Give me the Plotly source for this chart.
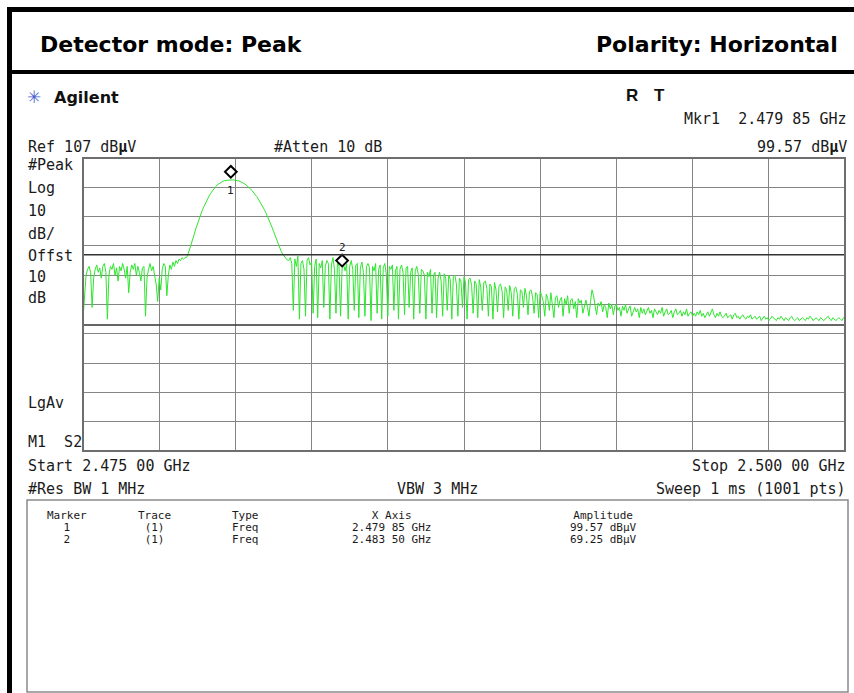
import numpy as np
import plotly.graph_objects as go

# ---------------- data ----------------
start_ghz = 2.475
stop_ghz = 2.500
ref_level = 107          # dBuV (top of screen)
db_per_div = 10

amp_floor_left = [52, 60, 67, 69, 70, 68, 56, 66, 69, 70.5,
                  68, 69.5, 66, 70, 71, 68, 52, 67, 70, 69,
                  71, 67, 69.5, 65, 70, 68.5, 71, 69, 66, 70,
                  61, 68, 70.5, 69, 71, 67, 70, 68, 65, 69.5,
                  70, 53, 66, 69, 71, 68.5, 70, 67, 64, 58,
                  66, 62, 69, 71, 70, 60, 67, 70.5, 69, 71.5,
                  70, 72, 71, 72.5, 72, 73, 72.5, 73]
amp_lobe = [73, 74.3, 75.8, 77.5, 79.3, 81, 82.8, 84.5, 86.1, 87.5,
            88.8, 90, 91.2, 92.3, 93.3, 94.3, 95.1, 95.9, 96.6, 97.2,
            97.8, 98.2, 98.6, 98.9, 99.1, 99.3, 99.4, 99.5, 99.55, 99.57,
            99.55, 99.5, 99.45, 99.35, 99.2, 99.0, 98.8, 98.5, 98.2, 97.8,
            97.4, 96.9, 96.4, 95.8, 95.2, 94.5, 93.8, 93.0, 92.2, 91.3,
            90.4, 89.4, 88.3, 87.2, 86, 84.8, 83.4, 82, 80.5, 79,
            77.6, 76.3, 75.2, 74.2, 73.4, 72.8, 72.2]
amp_right_a = [72, 73, 71, 55, 72.5, 70, 73.5, 52, 71, 72,
               69, 53, 72, 73, 70.5, 71.5, 54, 70, 72.5, 52.5,
               71, 69.5, 72, 56, 70, 72, 71, 52, 70.5, 73,
               69, 54, 71.5, 70, 53, 69.25, 70.5, 68.5, 71, 52,
               70, 72, 69, 55, 70.5, 71, 52.5, 69.5, 71.5, 68,
               53, 70, 71, 69.5, 51.5, 70, 68.5, 71, 54, 69,
               70.5, 52, 69.5, 71, 67.5, 53, 70, 69, 70.5, 55,
               68.5, 70, 52, 69, 70.5, 68, 53.5, 69.5, 70, 56,
               68, 69.5, 52, 68.5, 70, 67.5, 54, 69]
amp_right_b = [68.5, 67, 52, 68, 66.5, 69, 54, 67, 68, 52.5,
               66, 68, 65, 53, 67.5, 66, 55, 67, 65.5, 52,
               66.5, 67, 64, 53, 66, 65, 56, 66.5, 64.5, 52,
               65.5, 66, 63.5, 54, 65, 64, 52.5, 65.5, 63, 55,
               64.5, 65, 62.5, 53, 64, 63, 52, 64.5, 62, 54.5,
               63.5, 64, 61.5, 52.5, 63, 62, 55, 63.5, 61, 53,
               62.5, 63, 60.5, 52, 62, 61.5, 56, 62.5, 60, 53.5,
               61.5, 62, 59.5, 54, 61, 60.5, 52.5, 61.5]
amp_right_c = [60, 58, 53, 60.5, 59, 55, 61, 57.5, 52.5, 59.5,
               60, 56, 58.5, 59.5, 53, 59, 57, 60, 54, 58.5,
               59, 55.5, 58, 52.5, 59, 57.5, 58.5, 54, 57, 58.5,
               56, 53, 58, 62, 60, 57, 53.5, 57.5, 56.5, 58,
               54.5, 57, 56, 52.5, 57.5, 55.5, 57, 53.5, 56.5, 57,
               55, 56, 53, 56.5, 55, 57, 54, 55.5, 56.5, 53,
               55, 56, 54.5, 55.5, 52.5, 56, 54, 55.5, 53.5, 55,
               56, 54, 55, 52.5, 55.5, 54.5, 53.5, 55, 54, 56,
               53, 54.5, 55.5, 53.5, 54, 55, 52.5, 54.5, 55.5, 53.5,
               54, 55, 53, 54.5, 53.5, 55.5, 53, 54, 54.5, 53]
amp_right_d = [54, 53, 54.5, 53.5, 55, 53, 54, 52.5, 53.5, 54.5,
               53, 54, 55.5, 53.5, 52.5, 54, 53, 54.5, 53, 52.5,
               53.5, 54, 52.5, 53, 53.5, 52, 53.5, 54, 52.5, 53,
               52, 53, 53.5, 52.5, 52, 53, 52.5, 53.5, 52, 52.5,
               53, 52, 52.5, 53, 51.5, 52.5, 53, 52, 52.5, 51.5,
               52, 53, 52.5, 52, 51.5, 52.5, 52, 53, 52, 51.5,
               52.5, 52, 51.5, 52.5, 53, 52, 51.5, 52, 52.5, 51.5,
               52, 52.5, 52, 51.5, 52.5, 52, 53, 52.5, 51.5, 52,
               52.5, 52, 51.5, 52.5, 52, 51.5, 52, 52.5, 53, 52,
               51.5, 52.5, 52, 51.5, 52, 52.5, 52, 51.5, 52.5, 52]
amp = amp_floor_left + amp_lobe + amp_right_a + amp_right_b + amp_right_c + amp_right_d

marker_ids = ["1", "2"]
marker_trace = ["(1)", "(1)"]
marker_type = ["Freq", "Freq"]
marker_freq_text = ["2.479 85 GHz", "2.483 50 GHz"]
marker_freq = [2.47985, 2.48350]
marker_amp = [99.57, 69.25]
limit_lines = [74, 50]

# ---------------- figure ----------------
W, H = 854, 693
freq = np.linspace(start_ghz, stop_ghz, len(amp))

def px(x):
    return x / W

def py(y):
    return 1 - y / H

MONO = "DejaVu Sans Mono"
SANS = "DejaVu Sans"
GRID_LEFT, GRID_RIGHT = 83, 845
GRID_TOP, GRID_BOTTOM = 158, 451
DIAMOND_LIFT = 8   # diamonds sit just above the marked point, as on the instrument

fig = go.Figure()
fig.add_trace(go.Scatter(x=freq, y=amp, mode="lines",
                         line=dict(color="#2ee62e", width=1),
                         hoverinfo="skip", showlegend=False))
# marker diamonds (same scales as the trace, vertical axis lifted a few pixels)
fig.add_trace(go.Scatter(x=marker_freq, y=marker_amp, mode="markers", xaxis="x2", yaxis="y2",
                         marker=dict(symbol="diamond-open", size=9, color="black",
                                     line=dict(color="black", width=2)),
                         cliponaxis=False, hoverinfo="skip", showlegend=False))

shapes = []
# photo frame lines
shapes.append(dict(type="rect", xref="paper", yref="paper", x0=px(7), x1=px(854), y0=py(7), y1=py(12),
                   fillcolor="black", line=dict(width=0)))
shapes.append(dict(type="rect", xref="paper", yref="paper", x0=px(7), x1=px(12), y0=py(7), y1=py(693),
                   fillcolor="black", line=dict(width=0)))
shapes.append(dict(type="rect", xref="paper", yref="paper", x0=px(7), x1=px(854), y0=py(70), y1=py(74),
                   fillcolor="black", line=dict(width=0)))
# display / limit lines
for lv in limit_lines:
    shapes.append(dict(type="line", xref="x domain", yref="y", x0=0, x1=1, y0=lv, y1=lv,
                       line=dict(color="#333333", width=1.5)))
# graticule border
shapes.append(dict(type="rect", xref="x domain", yref="y domain", x0=0, x1=1, y0=0, y1=1,
                   line=dict(color="#6e6e6e", width=2)))
# marker table box
shapes.append(dict(type="rect", xref="paper", yref="paper", x0=px(27), x1=px(848), y0=py(500), y1=py(692),
                   line=dict(color="#8a8a8a", width=1.5)))

ann = []

def txt(s, x, y, size=15, anchor="left", family=MONO, color="#1a1a1a", yanchor="middle"):
    ann.append(dict(text=s, x=px(x), y=py(y), xref="paper", yref="paper", showarrow=False,
                    xanchor=anchor, yanchor=yanchor, font=dict(family=family, size=size, color=color)))

# header
txt("<b>Detector mode: Peak</b>", 38, 44, size=22, family=SANS, color="black")
txt("<b>Polarity: Horizontal</b>", 840, 44, size=22, anchor="right", family=SANS, color="black")

# screen annotations
txt("✳", 25, 97, size=17, family=SANS, color="#4a5fd0")
txt("<b>Agilent</b>", 52, 97, size=16, family=SANS, color="#111")
txt("<b>R</b>", 624, 95, size=17, family="Liberation Sans", color="#111")
txt("<b>T</b>", 652, 95, size=17, family="Liberation Sans", color="#111")
txt("Mkr1  " + marker_freq_text[0], 849, 119, anchor="right")
txt("Ref %d dB<b>µ</b>V" % ref_level, 26, 147)
txt("#Atten 10 dB", 272, 147)
txt("%.2f dB<b>µ</b>V" % marker_amp[0], 849, 147, anchor="right")

left_labels = ["#Peak", "Log", "10", "dB/", "Offst", "10", "dB"]
left_y = [165, 188, 211, 234, 256, 277, 298]
for s, yy in zip(left_labels, left_y):
    txt(s, 26, yy)
txt("LgAv", 26, 403)
txt("M1  S2", 26, 442)

txt("Start %.3f 00 GHz" % start_ghz, 26, 466)
txt("Stop %.3f 00 GHz" % stop_ghz, 848, 466, anchor="right")
txt("#Res BW 1 MHz", 26, 489)
txt("VBW 3 MHz", 437, 489, anchor="center")
txt("Sweep 1 ms (1001 pts)", 848, 489, anchor="right")

# marker table: one multi-line text per column
TS = 11
BASE = 9.25

def column(lines, x):
    body = "<br>".join("<span style='font-size:%gpx'>%s</span>" % (TS, s) for s in lines)
    ann.append(dict(text=body, x=px(x), y=py(507), xref="paper", yref="paper", showarrow=False,
                    xanchor="center", yanchor="top", align="center",
                    font=dict(family=MONO, size=BASE, color="#1a1a1a")))

column(["Marker"] + marker_ids, 67)
column(["Trace"] + marker_trace, 154)
column(["Type"] + marker_type, 245)
column(["X Axis"] + marker_freq_text, 391)
column(["Amplitude"] + ["%.2f dBµV" % a for a in marker_amp], 603)

# marker numbers on the trace
label_shift = [-11, 21]
for k in range(len(marker_ids)):
    ann.append(dict(text=marker_ids[k], x=marker_freq[k], y=marker_amp[k], xref="x", yref="y",
                    showarrow=False, yshift=label_shift[k], font=dict(family=MONO, size=11, color="#222")))

axis_common = dict(showticklabels=False, ticks="", zeroline=False, showline=False, fixedrange=True)
fig.update_layout(
    width=W, height=H, autosize=False,
    margin=dict(l=0, r=0, t=0, b=0),
    paper_bgcolor="white", plot_bgcolor="rgba(0,0,0,0)",
    shapes=shapes, annotations=ann, showlegend=False,
    xaxis=dict(range=[start_ghz, stop_ghz], domain=[px(GRID_LEFT), px(GRID_RIGHT)],
               tick0=start_ghz, dtick=(stop_ghz - start_ghz) / 10,
               showgrid=True, gridcolor="#858585", gridwidth=1, **axis_common),
    yaxis=dict(range=[ref_level - 10 * db_per_div, ref_level], domain=[py(GRID_BOTTOM), py(GRID_TOP)],
               tick0=ref_level, dtick=db_per_div,
               showgrid=True, gridcolor="#858585", gridwidth=1, **axis_common),
    xaxis2=dict(range=[start_ghz, stop_ghz], domain=[px(GRID_LEFT), px(GRID_RIGHT)],
                anchor="y2", visible=False, showgrid=False, **axis_common),
    yaxis2=dict(range=[ref_level - 10 * db_per_div, ref_level],
                domain=[py(GRID_BOTTOM - DIAMOND_LIFT), py(GRID_TOP - DIAMOND_LIFT)],
                anchor="x2", visible=False, showgrid=False, **axis_common),
)

fig.write_html("out.html", config={"displayModeBar": False, "staticPlot": True},
               post_script="document.body.style.margin='0px';document.body.style.overflow='hidden';"
                           "document.documentElement.style.overflow='hidden';")
